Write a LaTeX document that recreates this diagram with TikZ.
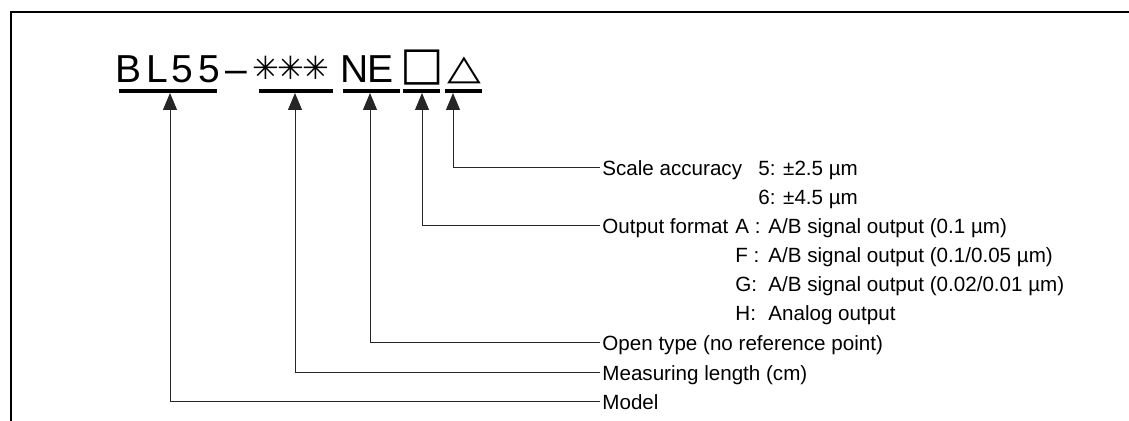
\documentclass[tikz,border=0pt]{standalone}
\usepackage{fontspec}
\setmainfont{Liberation Sans}
\newfontfamily\symfont{DejaVu Sans}
\usetikzlibrary{arrows.meta}

\begin{document}
\begin{tikzpicture}[x=0.5pt,y=-0.5pt,
  head/.style={anchor=base,inner sep=0pt,font=\fontsize{19.5}{19.5}\selectfont},
  headsym/.style={inner sep=0pt,font=\symfont\fontsize{23}{23}\selectfont},
  lbl/.style={anchor=west,inner xsep=1pt,inner ysep=0pt,text height=7.4pt,text depth=0pt,font=\fontsize{10.3}{12}\selectfont},
  conn/.style={draw=black!85,line width=0.5pt,-{Triangle[length=8.5pt,width=7pt]}}]
\useasboundingbox (0,0) rectangle (1129,421);
\draw[line width=0.75pt] (11,421)--(11,12)--(1129,12);
\foreach \c/\x/\n in {B/129/b,L/157/l,5/182/f1,5/209/f2,–/236/d,N/355/n,E/381/e}
  \node[head] (\n) at (\x,83) {\c};
\foreach \x in {266,291,316}
  \node[headsym,font=\symfont\fontsize{16}{16}\selectfont] (s\x) at (\x,67.5) {✳};
\node[headsym] (sq) at (422,67.5) {□};
\node[headsym,font=\symfont\fontsize{22}{22}\selectfont] (tri) at (464.5,70) {\scalebox{1}[0.8]{△}};
\foreach \a/\b in {119/217,259/333,343/400,403/440,445/482}
  \draw[line width=2pt] (\a,91)--(\b,91);
\coordinate (tmodel) at (170,93);
\coordinate (tlen) at (295,93);
\coordinate (topen) at (370,93);
\coordinate (tfmt) at (422,93);
\coordinate (tacc) at (453,93);
\node[lbl] (acc) at (600,168) {Scale accuracy};
\node[lbl] (acc5) at (756,168) {5: ±2.5 µm};
\node[lbl] (acc6) at (756,197) {6: ±4.5 µm};
\node[lbl] (fmt) at (600,226) {Output format};
\node[lbl] (fa) at (733,226) {A :};
\node[lbl] (fb) at (733,255) {F :};
\node[lbl] (fc) at (733,284) {G:};
\node[lbl] (fd) at (733,313) {H:};
\node[lbl] (da) at (766,226) {A/B signal output (0.1 µm)};
\node[lbl] (db) at (766,255) {A/B signal output (0.1/0.05 µm)};
\node[lbl] (dc) at (766,284) {A/B signal output (0.02/0.01 µm)};
\node[lbl] (dd) at (766,313) {Analog output};
\node[lbl] (open) at (600,343) {Open type (no reference point)};
\node[lbl] (len) at (600,373) {Measuring length (cm)};
\node[lbl] (model) at (600,402) {Model};
\draw[conn] (acc.west) -| (tacc);
\draw[conn] (fmt.west) -| (tfmt);
\draw[conn] (open.west) -| (topen);
\draw[conn] (len.west) -| (tlen);
\draw[conn] (model.west) -| (tmodel);
\end{tikzpicture}
\end{document}
